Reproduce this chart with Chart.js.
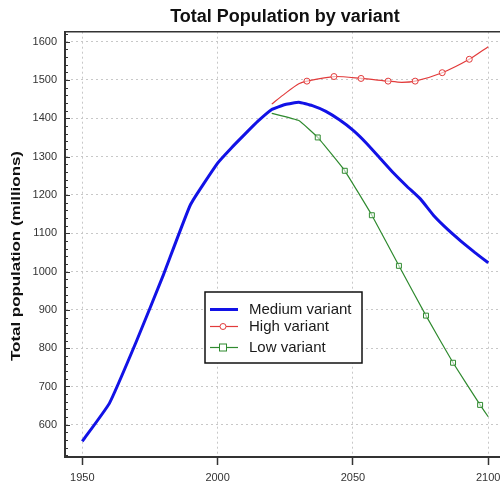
<!DOCTYPE html>
<html><head><meta charset="utf-8">
<script src="https://cdn.jsdelivr.net/npm/chart.js@4"></script>
<style>html,body{margin:0;padding:0;overflow:hidden;background:#fff}#wrap{width:515px;height:483px}</style>
</head><body><div id="wrap"><canvas id="c" width="515" height="483"></canvas></div>
<script>
const mediumYears = [1950,1960,1970,1980,1990,2000,2005,2010,2015,2020,2025,2030,2035,2040,2045,2050,2055,2060,2065,2070,2075,2080,2085,2090,2095,2100];
const mediumValues = [557,656,818,992,1175,1283,1322,1358,1393,1423,1436,1442,1433,1418,1396,1369,1335,1296,1257,1222,1189,1145,1110,1079,1050,1023];
const highYears = [2020,2025,2030,2033,2043,2053,2063,2068,2073,2083,2093,2100];
const highValues = [1437,1465,1490,1497,1509,1504,1497,1494,1497,1519,1554,1587];
const highMarkerYears = [2033,2043,2053,2063,2073,2083,2093];
const lowYears = [2020,2030,2037,2047,2057,2067,2077,2087,2097,2100];
const lowValues = [1413,1394,1350,1263,1147,1015,885,762,652,621];
const lowMarkerYears = [2037,2047,2057,2067,2077,2087,2097];
const xTickValues = [1950,2000,2050,2100];
const yTickValues = [600,700,800,900,1000,1100,1200,1300,1400,1500,1600];
const seriesLabels = ['Medium variant','High variant','Low variant'];
const chartTitle = 'Total Population by variant';
const yAxisTitle = 'Total population (millions)';

const FONT = '"Liberation Sans", Arial, sans-serif';
const BLUE = '#1212e6', RED = '#e23b3b', GREEN = '#2f8a2f';

function pts(xs, ys){ return xs.map((x,i)=>({x:x, y:ys[i]})); }

const frame = {
  id:'frame',
  afterDraw(chart){
    const ctx = chart.ctx, a = chart.chartArea, ys = chart.scales.y;
    ctx.save();
    ctx.strokeStyle = '#333'; ctx.lineWidth = 1.5;
    ctx.beginPath(); ctx.moveTo(a.left, a.top); ctx.lineTo(a.right, a.top); ctx.lineTo(a.right, a.bottom); ctx.stroke();
    ctx.lineWidth = 1;
    for (let v = 520; v <= 1620; v += 20){
      const py = Math.round(ys.getPixelForValue(v)) + 0.5;
      const len = v % 100 === 0 ? 5 : 3;
      ctx.beginPath(); ctx.moveTo(a.left, py); ctx.lineTo(a.left + len, py); ctx.stroke();
    }
    // y axis title
    ctx.save();
    ctx.translate(16, 256); ctx.rotate(-Math.PI/2); ctx.scale(1.3, 1);
    ctx.font = 'bold 13px ' + FONT; ctx.fillStyle = '#111'; ctx.textAlign = 'center'; ctx.textBaseline = 'middle';
    ctx.fillText(yAxisTitle, 0, 0);
    ctx.restore();
    // legend
    const ds = chart.data.datasets;
    const bx = 205, by = 292, bw = 157, bh = 71;
    ctx.fillStyle = '#fff'; ctx.fillRect(bx, by, bw, bh);
    ctx.strokeStyle = '#111'; ctx.lineWidth = 1.5; ctx.strokeRect(bx, by, bw, bh);
    const rows = [309.5, 326.5, 347.5];
    ctx.font = '15px ' + FONT; ctx.textBaseline = 'middle'; ctx.textAlign = 'left';
    ds.forEach((d, i) => {
      const yy = rows[i];
      ctx.strokeStyle = d.borderColor; ctx.lineWidth = d.borderWidth;
      ctx.beginPath(); ctx.moveTo(210, yy); ctx.lineTo(238, yy); ctx.stroke();
      ctx.lineWidth = 1;
      if (i === 1){ ctx.beginPath(); ctx.arc(223, yy, 3, 0, Math.PI*2); ctx.fillStyle='#fff'; ctx.fill(); ctx.stroke(); }
      if (i === 2){ ctx.fillStyle='#fff'; ctx.fillRect(219.5, yy-3.5, 7, 7); ctx.strokeRect(219.5, yy-3.5, 7, 7); }
      ctx.fillStyle = '#1a1a1a';
      ctx.fillText(d.label, 249, yy + 0.5);
    });
    ctx.restore();
  }
};

new Chart(document.getElementById('c'), {
  type:'line',
  data:{ datasets:[
    { label: seriesLabels[0], data: pts(mediumYears, mediumValues), borderColor: BLUE, borderWidth: 3, pointRadius: 0, tension: 0.12 },
    { label: seriesLabels[1], data: pts(highYears, highValues), borderColor: RED, borderWidth: 1.2, tension: 0.25,
      pointRadius: highYears.map(y => highMarkerYears.includes(y) ? 3 : 0), pointStyle:'circle',
      pointBackgroundColor:'rgba(255,255,255,0.6)', pointBorderColor: RED, pointBorderWidth: 1 },
    { label: seriesLabels[2], data: pts(lowYears, lowValues), borderColor: GREEN, borderWidth: 1.2, tension: 0.1,
      pointRadius: lowYears.map(y => lowMarkerYears.includes(y) ? 3.5 : 0), pointStyle:'rect',
      pointBackgroundColor:'rgba(255,255,255,0.6)', pointBorderColor: GREEN, pointBorderWidth: 1 }
  ]},
  options:{
    responsive:false, animation:false, devicePixelRatio:1,
    layout:{ padding:{ left:0, right:10, top:0, bottom:0 } },
    plugins:{
      legend:{ display:false }, tooltip:{ enabled:false },
      title:{ display:true, text: chartTitle, fullSize:false, color:'#111',
        font:{ family: FONT, size:18, weight:'bold' }, padding:{ top:6, bottom:4.1 } }
    },
    scales:{
      x:{ type:'linear', min:1943.6, max:2106.2,
        afterBuildTicks: s => { s.ticks = xTickValues.map(v => ({value:v})); },
        afterFit: s => { s.height = 26; },
        grid:{ color:'#c8c8c8', lineWidth:1, drawTicks:true, tickLength:8, tickColor:'#333', tickWidth:1.5, tickBorderDash:[] },
        border:{ display:true, color:'#333', width:2, dash:[2,3] },
        ticks:{ color:'#333', font:{ family: FONT, size:11 }, padding:6, maxRotation:0, callback: v => String(v) }
      },
      y:{ type:'linear', min:516, max:1626,
        afterBuildTicks: s => { s.ticks = yTickValues.map(v => ({value:v})); },
        afterFit: s => { s.width = 65; },
        grid:{ color:'#c8c8c8', lineWidth:1, drawTicks:false },
        border:{ display:true, color:'#333', width:2, dash:[2,3] },
        ticks:{ color:'#333', font:{ family: FONT, size:11 }, padding:8, callback: v => String(v) },
        title:{ display:false }
      }
    }
  },
  plugins:[frame]
});
</script></body></html>
